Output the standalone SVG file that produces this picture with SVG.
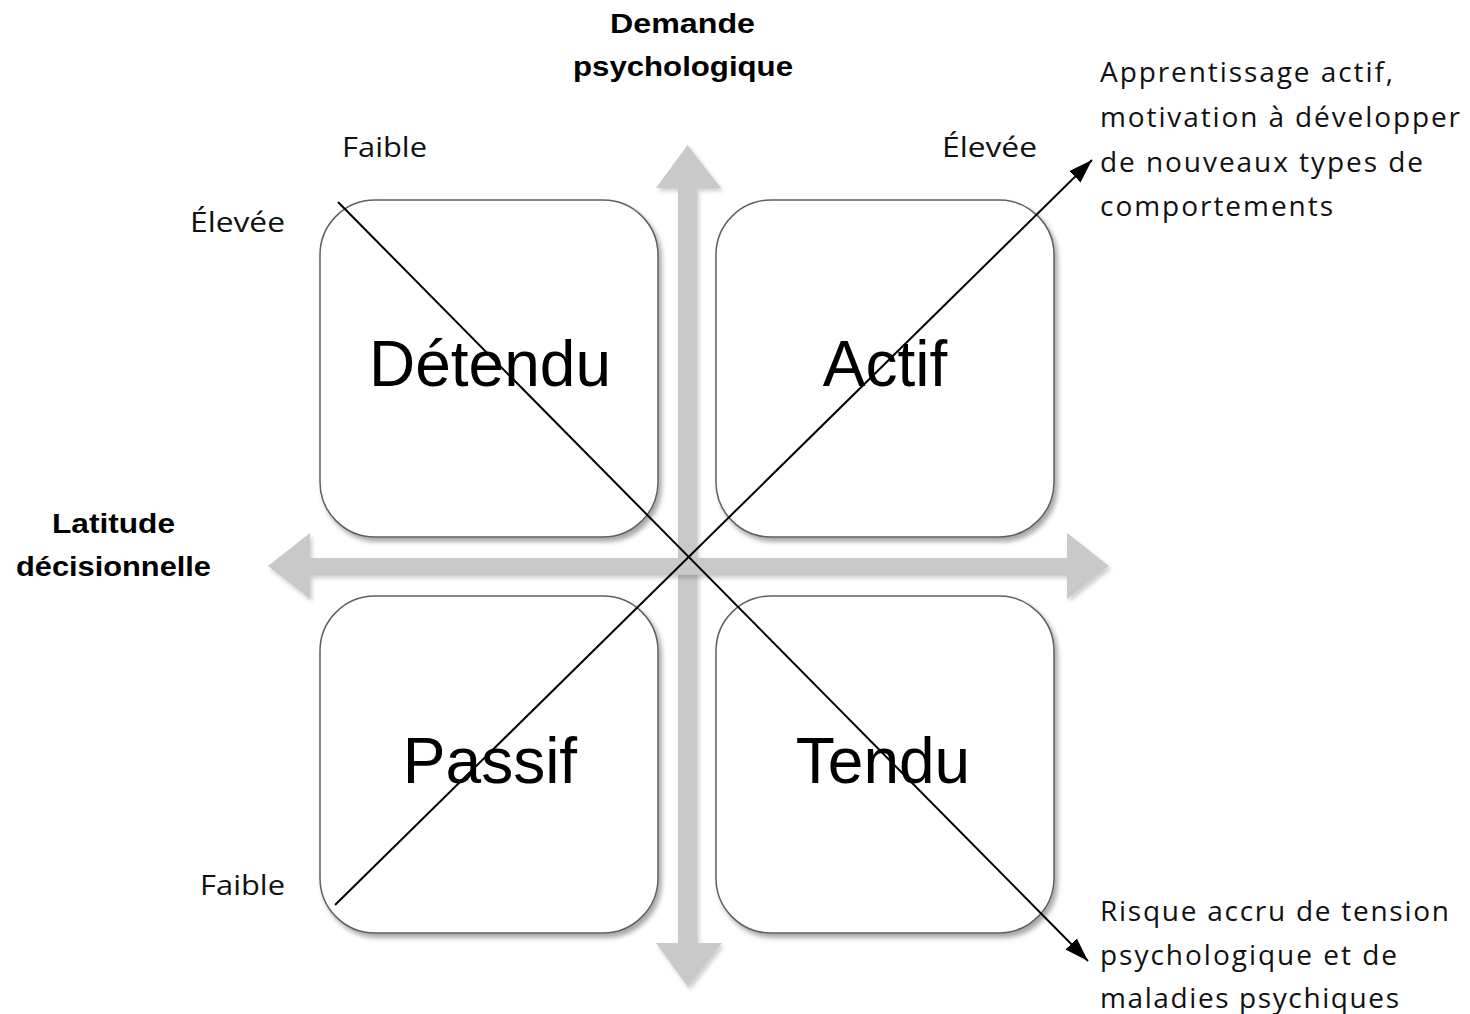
<svg xmlns="http://www.w3.org/2000/svg" width="1470" height="1014" viewBox="0 0 1470 1014">
<defs>
<filter id="shadow" x="-10%" y="-10%" width="125%" height="125%">
<feDropShadow dx="3" dy="4" stdDeviation="2.5" flood-color="#000" flood-opacity="0.35"/>
</filter>
<filter id="ashadow" x="-10%" y="-10%" width="125%" height="125%">
<feDropShadow dx="2" dy="3" stdDeviation="2" flood-color="#000" flood-opacity="0.2"/>
</filter>
<marker id="ah" viewBox="0 0 24 16" refX="24" refY="8" markerWidth="24" markerHeight="16" markerUnits="userSpaceOnUse" orient="auto">
<path d="M0,0 L24,8 L0,16 Z" fill="#000"/>
</marker>
</defs>
<style>
.box{fill:#fff;stroke:#606060;stroke-width:1.5;filter:url(#shadow)}
.big{font-family:"Liberation Sans",Arial,sans-serif;font-size:64px;fill:#000;text-anchor:middle}
.lbl{font-family:"Open Sans","Liberation Sans",Arial,sans-serif;font-size:27px;fill:#111}
.bold{font-family:"Liberation Sans",Arial,sans-serif;font-size:28px;font-weight:bold;fill:#000}
.note{font-family:"Open Sans","Liberation Sans",Arial,sans-serif;font-size:28px;fill:#111}
.axis{fill:#c9c9c9;filter:url(#ashadow)}
.diag{stroke:#000;stroke-width:2;fill:none}
</style>
<rect width="1470" height="1014" fill="#fff"/>

<g id="axes">
<path class="axis" d="M687.5,145 L721,188 L697,188 L697,943 L722,943 L688,987 L656,943 L678,943 L678,188 L656,188 Z"/>
<path class="axis" d="M268,566 L310,533 L310,558 L1067,558 L1067,533 L1109,566 L1067,599 L1067,575 L310,575 L310,599 Z"/>
</g>

<g id="node-detendu">
<rect class="box" x="320" y="200" width="338" height="337" rx="55" ry="55"/>
<text class="big" x="490" y="386">Détendu</text>
</g>
<g id="node-actif">
<rect class="box" x="716" y="200" width="338" height="337" rx="55" ry="55"/>
<text class="big" x="885" y="386">Actif</text>
</g>
<g id="node-passif">
<rect class="box" x="320" y="596" width="338" height="337" rx="55" ry="55"/>
<text class="big" x="490" y="783">Passif</text>
</g>
<g id="node-tendu">
<rect class="box" x="716" y="596" width="338" height="337" rx="55" ry="55"/>
<text class="big" x="883" y="783">Tendu</text>
</g>

<g id="axis-labels">
<text class="bold" x="610" y="33" textLength="145" lengthAdjust="spacingAndGlyphs">Demande</text>
<text class="bold" x="573" y="76" textLength="220" lengthAdjust="spacingAndGlyphs">psychologique</text>
<text class="bold" x="52" y="533" textLength="123" lengthAdjust="spacingAndGlyphs">Latitude</text>
<text class="bold" x="16" y="576" textLength="195" lengthAdjust="spacingAndGlyphs">décisionnelle</text>
<text class="lbl" x="342" y="157" textLength="85" lengthAdjust="spacingAndGlyphs">Faible</text>
<text class="lbl" x="942" y="157" textLength="95" lengthAdjust="spacingAndGlyphs">Élevée</text>
<text class="lbl" x="190" y="232" textLength="95" lengthAdjust="spacingAndGlyphs">Élevée</text>
<text class="lbl" x="200" y="895" textLength="85" lengthAdjust="spacingAndGlyphs">Faible</text>
</g>

<g id="note-actif">
<text class="note" x="1100" y="82" textLength="293" lengthAdjust="spacing">Apprentissage  actif,</text>
<text class="note" x="1100" y="127" textLength="360" lengthAdjust="spacing">motivation à développer</text>
<text class="note" x="1100" y="172" textLength="323" lengthAdjust="spacing">de nouveaux types de</text>
<text class="note" x="1100" y="216" textLength="233" lengthAdjust="spacing">comportements</text>
</g>
<g id="note-tendu">
<text class="note" x="1100" y="921" textLength="349" lengthAdjust="spacing">Risque accru de tension</text>
<text class="note" x="1100" y="965" textLength="297" lengthAdjust="spacing">psychologique et de</text>
<text class="note" x="1100" y="1008" textLength="299" lengthAdjust="spacing">maladies psychiques</text>
</g>

<g id="connectors">
<line class="diag" x1="338" y1="202" x2="1088" y2="961" marker-end="url(#ah)"/>
<line class="diag" x1="335" y1="905" x2="1092" y2="160" marker-end="url(#ah)"/>
</g>
</svg>
